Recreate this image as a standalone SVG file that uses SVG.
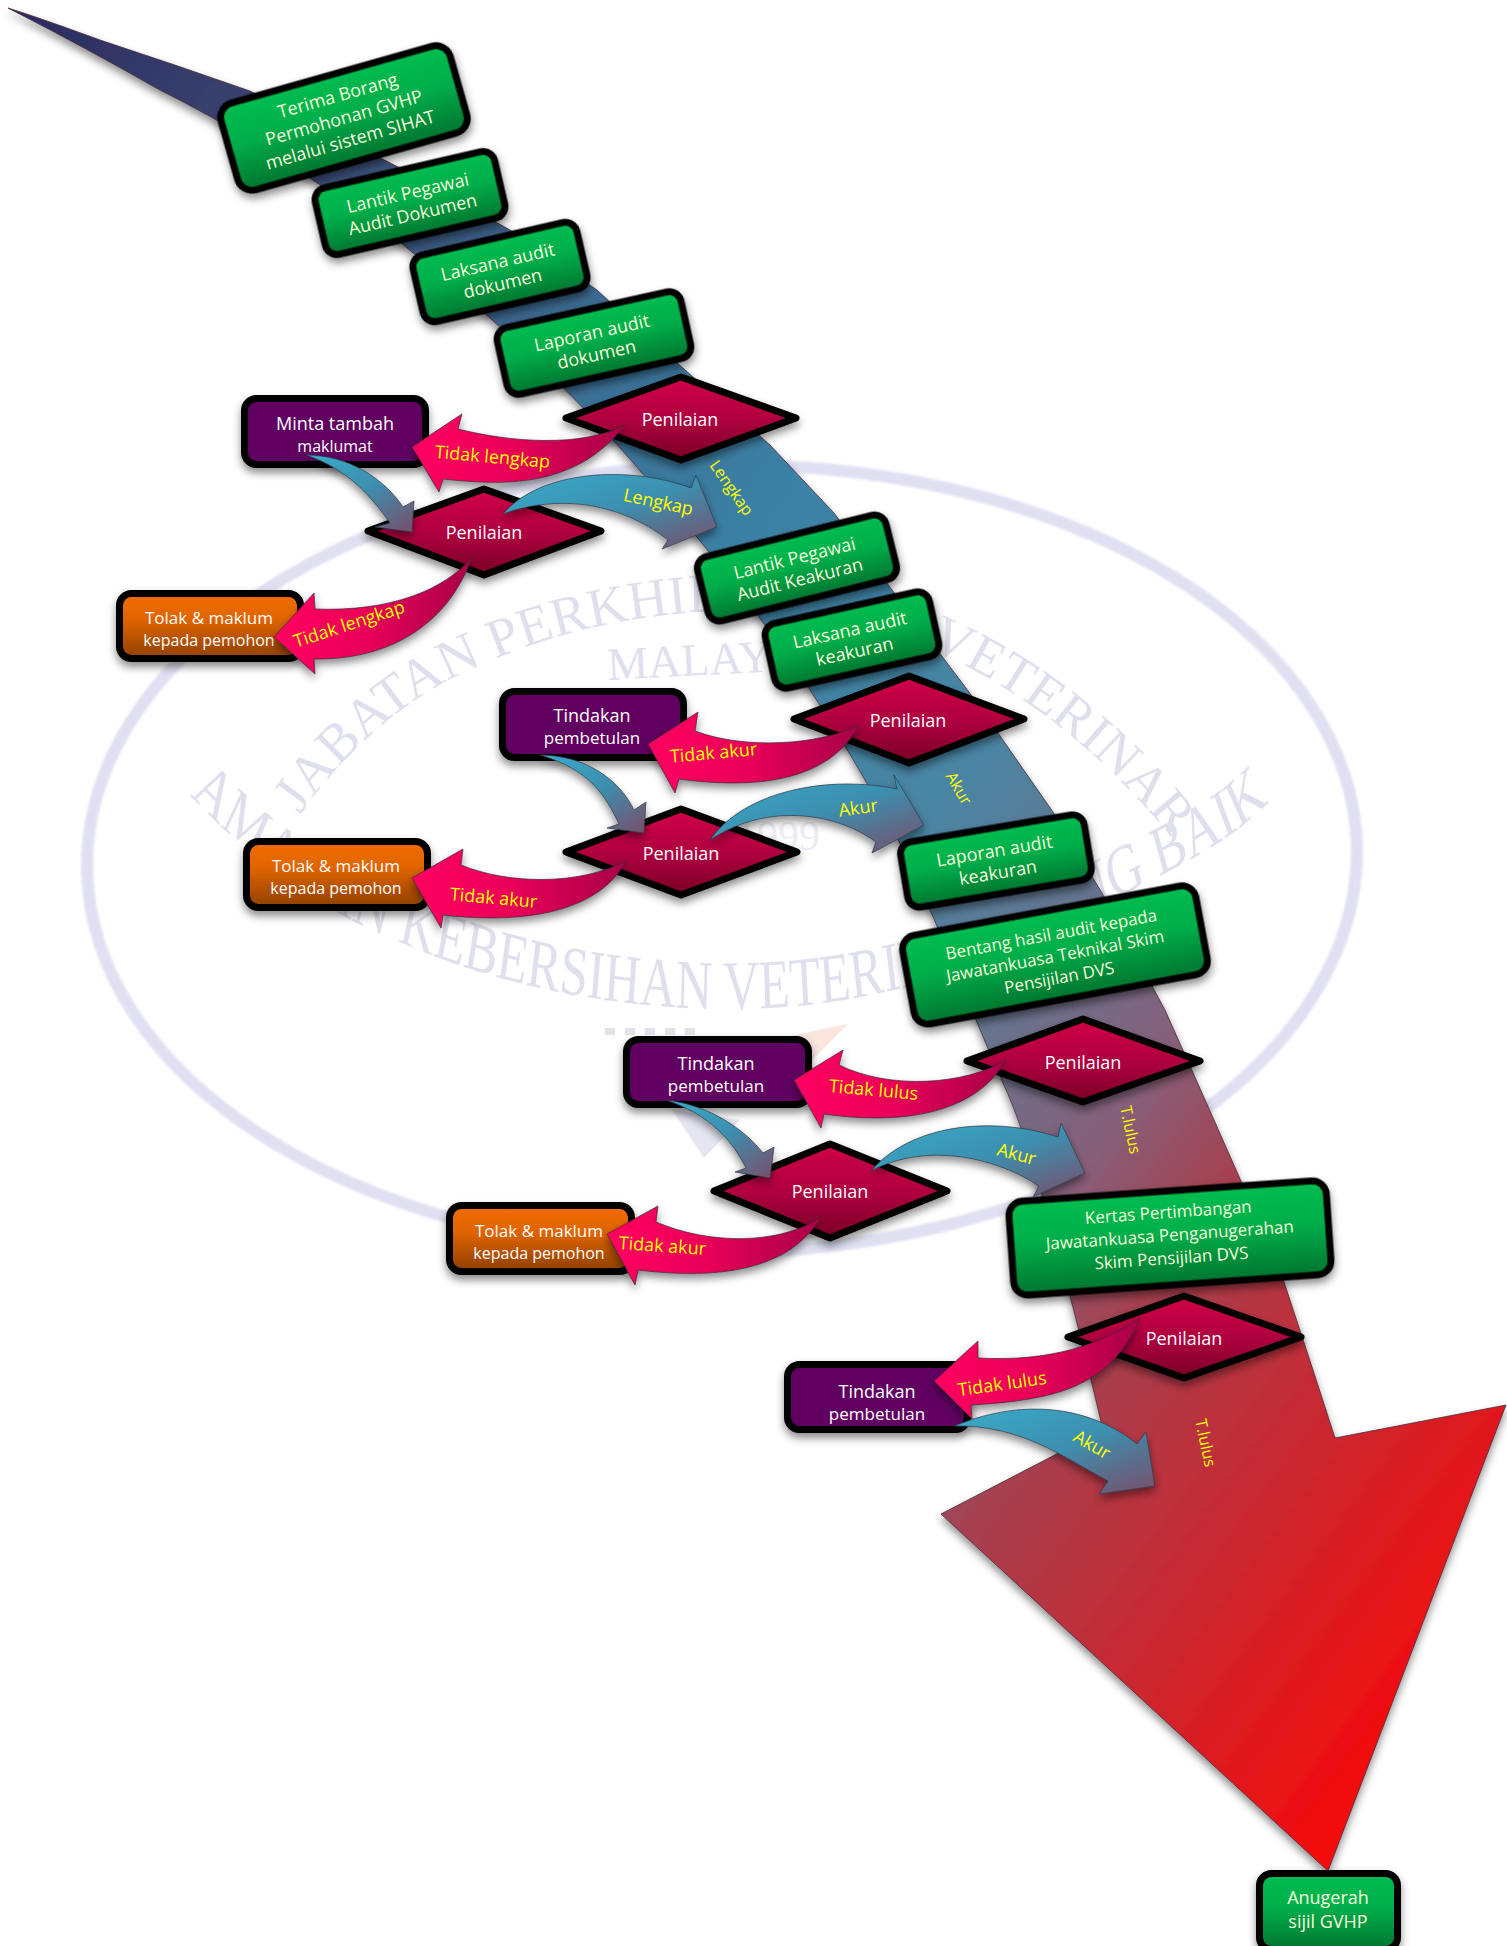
<svg xmlns="http://www.w3.org/2000/svg" width="1507" height="1946" viewBox="0 0 1507 1946">
<style>
text{font-family:"Open Sans","Liberation Sans",sans-serif;text-anchor:middle}
.t{font-size:18px;fill:#fff}
.g{font-size:18px;fill:#f5ffdc}
.y{font-size:18px;fill:#ff0}
.ym{font-size:16px;fill:#ff0}
.box{stroke:#000;stroke-width:7;stroke-linejoin:round;filter:url(#sh)}
.green{fill:url(#gGreen)}
.purple{fill:#600060}
.orange{fill:url(#gOrange)}
.dia{fill:url(#gDia)}
.red{fill:url(#gRed);stroke:#3a2a3a;stroke-width:.7;filter:url(#sh)}
.blue{fill:url(#gBlue);stroke:#2b3a48;stroke-width:.7;filter:url(#sh)}
.wm{fill:#dfe0ee;font-family:"Liberation Serif",serif}
</style>
<defs>
<filter id="sh" x="-20%" y="-20%" width="140%" height="150%"><feDropShadow dx="0" dy="5" stdDeviation="4" flood-color="#000" flood-opacity=".45"/></filter>
<filter id="soft" x="-5%" y="-5%" width="110%" height="110%"><feGaussianBlur stdDeviation="1"/></filter>
<linearGradient id="gGreen" x1="0" y1="0" x2="0" y2="1"><stop offset="0" stop-color="#00bd50"/><stop offset=".45" stop-color="#00ae4a"/><stop offset="1" stop-color="#007530"/></linearGradient>
<linearGradient id="gOrange" x1="0" y1="0" x2="0" y2="1"><stop offset="0" stop-color="#f26c00"/><stop offset=".4" stop-color="#e06400"/><stop offset="1" stop-color="#8e3f00"/></linearGradient>
<linearGradient id="gDia" x1="0" y1="0" x2="0" y2="1"><stop offset="0" stop-color="#d00048"/><stop offset=".5" stop-color="#b00040"/><stop offset="1" stop-color="#7a0026"/></linearGradient>
<linearGradient id="gRed" x1="0" y1="0" x2="1" y2="0"><stop offset="0" stop-color="#ff0060"/><stop offset=".45" stop-color="#ea0058"/><stop offset="1" stop-color="#a80048"/></linearGradient>
<linearGradient id="gBlue" x1="0" y1=".1" x2=".9" y2="1"><stop offset="0" stop-color="#3aa8c6"/><stop offset=".5" stop-color="#3c8fb0"/><stop offset="1" stop-color="#735470"/></linearGradient>
<linearGradient id="gMain" gradientUnits="userSpaceOnUse" x1="8" y1="8" x2="1756" y2="1319"><stop offset="0" stop-color="#2a2a5e"/><stop offset=".12" stop-color="#3a4470"/><stop offset=".29" stop-color="#3a6a90"/><stop offset=".42" stop-color="#3b82a6"/><stop offset=".56" stop-color="#4a85a3"/><stop offset=".63" stop-color="#637690"/><stop offset=".71" stop-color="#86607a"/><stop offset=".77" stop-color="#a6404f"/><stop offset="1" stop-color="#f80808"/></linearGradient>
<path id="arcTop" d="M300,815 C350,745 410,695 475,668 C545,635 620,618 700,612 C790,610 870,625 943,655 C1020,690 1100,750 1172,838"/>
<path id="arcBot" d="M264,795 C361,870 458,915 565,945 C694,985 833,1005 981,1009 C1069,1010 1153,1005 1222,993 C1347,975 1458,935 1546,900 C1625,870 1688,850 1743,815"/>
</defs>

<g id="watermark">
<ellipse cx="722" cy="859" rx="635" ry="394" fill="none" stroke="#e0e0f2" stroke-width="12" transform="rotate(-1 722 859)" filter="url(#soft)"/>
<text class="wm" font-size="55" style="text-anchor:start"><textPath href="#arcTop">JABATAN PERKHIDMATAN VETERINAR</textPath></text>
<text class="wm" font-size="46" x="608" y="680" style="text-anchor:start" transform="rotate(-3 608 680)">MALAYSIA</text>
<text class="wm" font-size="70" style="text-anchor:start" transform="scale(.72,1)"><textPath href="#arcBot">AMALAN KEBERSIHAN VETERINAR YANG BAIK</textPath></text>
<text class="wm" font-size="42" x="778" y="850" style="fill:#ececf4">1999</text>
<path d="M605,1028h10v7h-10zM625,1028h10v7h-10zM645,1028h10v7h-10zM665,1028h10v7h-10zM685,1028h10v7h-10z" fill="#e2e2ea"/>
<path d="M770,1040 L848,1024 L810,1062 Z" fill="#fbe6df"/>
<path d="M672,1110 L740,1120 L704,1158 Z" fill="#e6e6f2"/>
</g>

<g id="main-arrow">
<path d="M8,8 Q40,18 100,40 Q176,65 250,91 Q324,129 398,167 Q454,198 510,230 Q553,260 597,290 Q640,330 684,369 Q727,407 770,445 Q802,479 834,513 Q904,606 975,700 Q1014,756 1053,812 Q1077,852 1102,893 Q1133,951 1165,1010 Q1203,1095 1241,1181 Q1262,1230 1283,1279 Q1310,1360 1335,1438 L1506,1405 L1328,1871 L941,1514 L1103,1430 Q1072,1298 1047,1212 Q1023,1126 1003,1083 Q984,1040 959,979 Q934,918 917,880 Q901,842 872,792 Q843,742 826,715 Q810,689 783,650 Q756,612 727,575 Q699,538 655,488 Q612,438 589,414 Q566,390 528,353 Q490,317 446,280 Q403,243 357,210 Q311,178 262,147 Q214,117 158,89 Q90,50 8,8 Z" fill="url(#gMain)" stroke="#4a2a3a" stroke-width=".8" filter="url(#sh)"/>
<text class="ym" transform="translate(727,491) rotate(55)">Lengkap</text>
<text class="ym" transform="translate(954,791) rotate(60)">Akur</text>
<text class="ym" transform="translate(1125,1131) rotate(78)">T.lulus</text>
<text class="ym" transform="translate(1200,1444) rotate(78)">T.lulus</text>
</g>

<g id="n1" transform="translate(344,118) rotate(-15.800)"><rect class="box green" x="-119" y="-45" width="238" height="90" rx="15"/><text class="g" y="-17">Terima Borang</text><text class="g" y="6">Permohonan GVHP</text><text class="g" y="29">melalui sistem SIHAT</text></g>
<g id="n2" transform="translate(410,203) rotate(-13)"><rect class="box green" x="-92" y="-34" width="184" height="68" rx="12"/><text class="g" y="-4">Lantik Pegawai</text><text class="g" y="18">Audit Dokumen</text></g>
<g id="n3" transform="translate(500,272) rotate(-13)"><rect class="box green" x="-84" y="-34" width="168" height="68" rx="12"/><text class="g" y="-4">Laksana audit</text><text class="g" y="18">dokumen</text></g>
<g id="n4" transform="translate(594,343) rotate(-12.500)"><rect class="box green" x="-94" y="-34" width="188" height="68" rx="12"/><text class="g" y="-4">Laporan audit</text><text class="g" y="18">dokumen</text></g>
<g id="d1"><path class="box dia" d="M566,418 L681,377 L796,418 L681,460 Z"/><text class="t" x="680" y="426">Penilaian</text></g>
<g id="p1"><rect class="box purple" x="244.500" y="398.500" width="181" height="66" rx="12"/><text class="t" x="335" y="430">Minta tambah</text><text class="t" x="335" y="452" style="font-size:16px">maklumat</text></g>
<g id="d2"><path class="box dia" d="M368,531 L484,489 L601,531 L484,575 Z"/><text class="t" x="484" y="539">Penilaian</text></g>
<g id="o1"><rect class="box orange" x="119.500" y="593.500" width="181" height="65" rx="12"/><text class="t" x="209" y="624" style="font-size:17px">Tolak &amp; maklum</text><text class="t" x="209" y="646" style="font-size:16px">kepada pemohon</text></g>
<g id="n5" transform="translate(797,568) rotate(-14)"><rect class="box green" x="-97" y="-33" width="194" height="66" rx="12"/><text class="g" y="-4">Lantik Pegawai</text><text class="g" y="18">Audit Keakuran</text></g>
<g id="n6" transform="translate(852,640) rotate(-12.500)"><rect class="box green" x="-84" y="-33" width="168" height="66" rx="12"/><text class="g" y="-4">Laksana audit</text><text class="g" y="18">keakuran</text></g>
<g id="d3"><path class="box dia" d="M794,719 L909,676 L1024,719 L909,763 Z"/><text class="t" x="908" y="727">Penilaian</text></g>
<g id="p2"><rect class="box purple" x="502.500" y="691.500" width="181" height="66" rx="12"/><text class="t" x="592" y="722">Tindakan</text><text class="t" x="592" y="744" style="font-size:17px">pembetulan</text></g>
<g id="d4"><path class="box dia" d="M566,852 L681,809 L797,852 L681,895 Z"/><text class="t" x="681" y="860">Penilaian</text></g>
<g id="o2"><rect class="box orange" x="246.500" y="841.500" width="181" height="66" rx="12"/><text class="t" x="336" y="872" style="font-size:17px">Tolak &amp; maklum</text><text class="t" x="336" y="894" style="font-size:16px">kepada pemohon</text></g>
<g id="n7" transform="translate(996,861) rotate(-9.500)"><rect class="box green" x="-93" y="-33" width="186" height="66" rx="12"/><text class="g" y="-4">Laporan audit</text><text class="g" y="18">keakuran</text></g>
<g id="n8" transform="translate(1055,955) rotate(-10.500)"><rect class="box green" x="-149" y="-45" width="298" height="90" rx="14"/><text class="g" y="-15" style="font-size:17px">Bentang hasil audit kepada</text><text class="g" y="7" style="font-size:17px">Jawatankuasa Teknikal Skim</text><text class="g" y="29" style="font-size:17px">Pensijilan DVS</text></g>
<g id="d5"><path class="box dia" d="M967,1061 L1083,1019 L1200,1061 L1083,1102 Z"/><text class="t" x="1083" y="1069">Penilaian</text></g>
<g id="p3"><rect class="box purple" x="626.500" y="1039.500" width="182" height="65" rx="12"/><text class="t" x="716" y="1070">Tindakan</text><text class="t" x="716" y="1092" style="font-size:17px">pembetulan</text></g>
<g id="d6"><path class="box dia" d="M714,1191 L830,1144 L947,1191 L830,1238 Z"/><text class="t" x="830" y="1198">Penilaian</text></g>
<g id="o3"><rect class="box orange" x="449.500" y="1205.500" width="182" height="66" rx="12"/><text class="t" x="539" y="1237" style="font-size:17px">Tolak &amp; maklum</text><text class="t" x="539" y="1259" style="font-size:16px">kepada pemohon</text></g>
<g id="n9" transform="translate(1170,1238) rotate(-4)"><rect class="box green" x="-159" y="-47" width="318" height="94" rx="14"/><text class="g" y="-20" style="font-size:17px">Kertas Pertimbangan</text><text class="g" y="3" style="font-size:17px">Jawatankuasa  Penganugerahan</text><text class="g" y="26" style="font-size:17px">Skim Pensijilan DVS</text></g>
<g id="d7"><path class="box dia" d="M1068,1337 L1184,1296 L1301,1337 L1184,1378 Z"/><text class="t" x="1184" y="1345">Penilaian</text></g>
<g id="p4"><rect class="box purple" x="787.500" y="1364.500" width="180" height="65" rx="12"/><text class="t" x="877" y="1398">Tindakan</text><text class="t" x="877" y="1420" style="font-size:17px">pembetulan</text></g>
<g id="n10"><rect class="box green" x="1259.500" y="1873.500" width="138" height="76" rx="12"/><text class="g" x="1328" y="1904">Anugerah</text><text class="g" x="1328" y="1928">sijil GVHP</text></g>

<g id="connectors">
<path class="red" d="M625,425 C580,448 510,442 458,429 L462,414 L412,447 L439,492 L443,479 C500,485 575,490 625,425 Z"/>
<path class="blue" d="M306,455 C350,455 385,480 403,507 L414,501 L412,532 L375,527 L390,523 C372,498 350,470 306,455 Z"/>
<path class="blue" d="M503,514 C540,470 630,465 691,488 L696,475 L717,527 L662,549 L668,540 C630,510 570,490 503,514 Z"/>
<path class="red" d="M472,557 C445,590 390,612 315,609 L314,593 L274,637 L315,674 L314,659 C395,660 450,620 472,557 Z"/>
<path class="red" d="M859,725 C820,745 745,750 695,731 L698,712 L648,744 L675,793 L679,779 C760,790 830,780 859,725 Z"/>
<path class="blue" d="M540,755 C585,755 620,780 634,810 L646,802 L644,833 L607,828 L619,824 C605,795 590,770 540,755 Z"/>
<path class="blue" d="M710,840 C745,790 830,775 897,789 L894,775 L924,825 L872,853 L876,842 C840,815 770,800 710,840 Z"/>
<path class="red" d="M626,861 C580,885 510,885 461,865 L463,849 L412,878 L441,928 L443,915 C530,925 600,910 626,861 Z"/>
<path class="red" d="M1006,1060 C965,1085 890,1090 839,1065 L843,1050 L794,1080 L821,1128 L824,1114 C900,1125 975,1115 1006,1060 Z"/>
<path class="blue" d="M666,1100 C710,1105 745,1130 763,1153 L774,1147 L770,1178 L735,1172 L746,1168 C732,1140 710,1115 666,1100 Z"/>
<path class="blue" d="M871,1171 C910,1125 990,1115 1058,1137 L1061,1123 L1085,1173 L1033,1197 L1039,1186 C1000,1160 930,1140 871,1171 Z"/>
<path class="red" d="M821,1217 C780,1245 710,1245 656,1222 L658,1206 L607,1234 L635,1285 L638,1270 C720,1280 790,1270 821,1217 Z"/>
<path class="red" d="M1140,1318 C1100,1345 1050,1362 978,1358 L978,1341 L934,1381 L972,1419 L971,1405 C1050,1400 1110,1390 1140,1318 Z"/>
<path class="blue" d="M954,1426 C1030,1395 1095,1410 1137,1444 L1146,1432 L1155,1486 L1099,1494 L1108,1481 C1060,1455 1020,1425 954,1426 Z"/>
<text class="y" transform="translate(492,463) rotate(5)">Tidak lengkap</text>
<text class="y" transform="translate(657,508) rotate(12)">Lengkap</text>
<text class="y" transform="translate(351,630) rotate(-18)">Tidak lengkap</text>
<text class="y" transform="translate(714,759) rotate(-5)">Tidak akur</text>
<text class="y" transform="translate(859,814) rotate(-8)">Akur</text>
<text class="y" transform="translate(493,904) rotate(5)">Tidak akur</text>
<text class="y" transform="translate(873,1096) rotate(5)">Tidak lulus</text>
<text class="y" transform="translate(1015,1160) rotate(15)">Akur</text>
<text class="y" transform="translate(662,1252) rotate(4)">Tidak akur</text>
<text class="y" transform="translate(1003,1390) rotate(-8)">Tidak lulus</text>
<text class="y" transform="translate(1089,1450) rotate(30)">Akur</text>
</g>
</svg>
